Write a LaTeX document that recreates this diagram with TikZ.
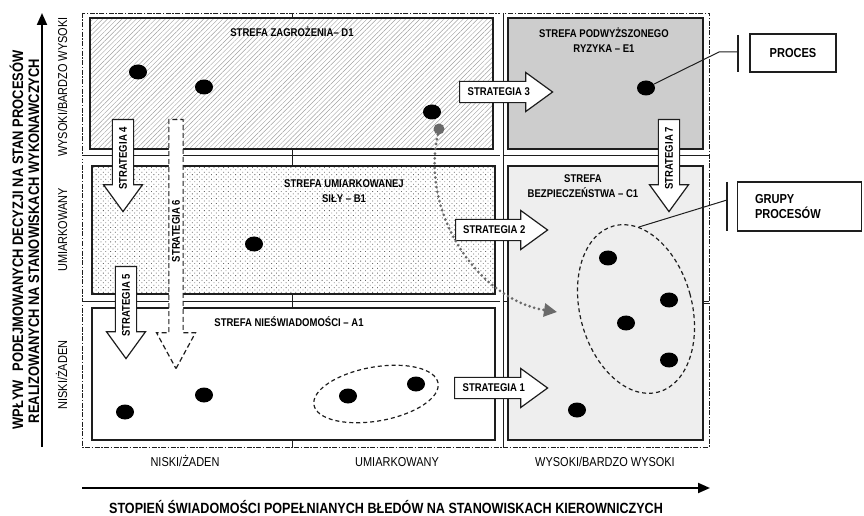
\documentclass[tikz,border=0pt]{standalone}
\usepackage{fontspec}
\setmainfont{Liberation Sans}[FakeStretch=0.85]
\usetikzlibrary{arrows.meta,positioning,shapes.geometric,shapes.arrows,patterns.meta}
\definecolor{inkdark}{HTML}{1E1E1E}
\definecolor{riskfill}{HTML}{CDCDCD}
\definecolor{safefill}{HTML}{EEEEEE}
\definecolor{hatchgray}{HTML}{A0A0A0}
\definecolor{dotgray}{HTML}{6A6A6A}
\definecolor{flowgray}{HTML}{6A6A6A}

\newcommand{\zonefont}{\fontsize{11.2bp}{15bp}\selectfont\bfseries}
\newcommand{\scalefont}{\fontsize{12.9bp}{14bp}\selectfont}
\newcommand{\titlefont}{\fontsize{15.2bp}{17bp}\selectfont\bfseries}
\newcommand{\xtitlefont}{\fontsize{14.8bp}{17bp}\selectfont\bfseries}
\newcommand{\legendfont}{\fontsize{13bp}{15.5bp}\selectfont\bfseries}

\begin{document}
\begin{tikzpicture}[
  x=1bp, y=-1bp,
  zone/.style={rectangle, draw=inkdark, line width=1.6bp, inner sep=0pt},
  zonelabel/.style={font=\zonefont, align=center, inner sep=0pt},
  scalelabel/.style={font=\scalefont, inner sep=0pt, anchor=base},
  strat/.style={single arrow, draw=inkdark, fill=white, line width=1.2bp, single arrow head extend=5.5bp, single arrow tip angle=72, minimum width=39bp, inner sep=2bp, font=\zonefont, anchor=tail},
  proc/.style={ellipse, fill=black, minimum width=18bp, minimum height=15bp, inner sep=0pt},
  grp/.style={ellipse, draw=inkdark, line width=1.2bp, dash pattern=on 4bp off 3bp, inner sep=0pt},
  legend/.style={rectangle, draw=inkdark, line width=1.5bp, font=\legendfont},
  leader/.style={inkdark, line width=1bp},
  axis/.style={-{Triangle[length=12bp,width=10bp]}, line width=2bp},
  gridline/.style={double, double distance=2.2bp, line width=0.9bp, draw=inkdark},
]
\useasboundingbox (0,0) rectangle (864,516);

% frame and grid
\draw[inkdark, line width=0.8bp, dash pattern=on 5bp off 1.5bp on 1.5bp off 1.5bp] (82,13) rectangle (709,447);
\draw[gridline] (82,157.5) -- (709,157.5);
\draw[gridline] (82,303.5) -- (709,303.5);
\draw[gridline] (501.5,13) -- (501.5,447);
\foreach \ya/\yb in {13/18, 149/166, 294/308, 440/447}
  \draw[inkdark, line width=1bp] (292,\ya) -- (292,\yb);
\draw[inkdark, line width=1bp] (703,303.5) -- (709,303.5);

% zones
\node[zone, pattern={Lines[angle=45,distance=3.4bp,line width=0.45bp]}, pattern color=hatchgray, minimum width=403bp, minimum height=131bp] (zoneD) at (291.5,83.5) {};
\node[zone, fill=riskfill, minimum width=195bp, minimum height=131bp] (zoneE) at (605.5,83.5) {};
\node[zone, pattern={Dots[angle=45,distance=3.4bp,radius=0.6bp]}, pattern color=dotgray, minimum width=403bp, minimum height=128bp] (zoneB) at (293.5,230) {};
\node[zone, fill=safefill, minimum width=195bp, minimum height=274bp] (zoneC) at (605.5,303) {};
\node[zone, fill=white, minimum width=403bp, minimum height=132bp] (zoneA) at (293.5,374) {};

\node[zonelabel, anchor=base] (labD) at (292,37) {STREFA ZAGROŻENIA– D1};
\node[zonelabel] (labE) at (604,40) {STREFA PODWYŻSZONEGO\\RYZYKA – E1};
\node[zonelabel] (labB) at (344,191) {STREFA UMIARKOWANEJ\\SIŁY – B1};
\node[zonelabel] (labC) at (583,186) {STREFA\\BEZPIECZEŃSTWA – C1};
\node[zonelabel, anchor=base] (labA) at (289,327) {STREFA NIEŚWIADOMOŚCI – A1};

% strategies
\node[strat, minimum height=93bp] (strat3) at (459,92) {STRATEGIA 3};
\node[strat, minimum height=92bp] (strat2) at (455,230) {STRATEGIA 2};
\node[strat, minimum height=93bp] (strat1) at (454,388) {STRATEGIA 1};
\node[strat, rotate=90, shape border rotate=180, minimum height=92bp] (strat4) at (123,119) {STRATEGIA 4};
\node[strat, rotate=90, shape border rotate=180, minimum height=92bp] (strat5) at (126,266) {STRATEGIA 5};
\node[strat, rotate=90, shape border rotate=180, minimum height=92bp] (strat7) at (669,119) {STRATEGIA 7};
\node[strat, dash pattern=on 5bp off 3bp, rotate=90, shape border rotate=180, minimum height=249bp, single arrow tip angle=57, single arrow head extend=4.5bp] (strat6) at (176,119) {};
\node[zonelabel, rotate=90] (strat6text) at (176,231) {STRATEGIA 6};

% processes
\node[proc] (pd1) at (138,72) {};
\node[proc] (pd2) at (204,87) {};
\node[proc] (pd3) at (432,112) {};
\node[proc] (pe1) at (646,88) {};
\node[proc] (pb1) at (254,244) {};
\node[proc] (pa1) at (125,412) {};
\node[proc] (pa2) at (204,395) {};
\node[proc] (pa3) at (348,396) {};
\node[proc] (pa4) at (416,384) {};
\node[proc] (pc1) at (608,258) {};
\node[proc] (pc2) at (669,300) {};
\node[proc] (pc3) at (626,323) {};
\node[proc] (pc4) at (669,360) {};
\node[proc] (pc5) at (577,410) {};

\node[grp, minimum width=126bp, minimum height=54bp, rotate=10] (grpA) at (376,394) {};
\node[grp, minimum width=112bp, minimum height=172bp, rotate=15] (grpC) at (636,309) {};

% moved process
\node[ellipse, fill=flowgray, minimum size=11bp, inner sep=0pt] (flowsrc) at (439,129) {};
\coordinate (flowend) at (557,312);
\draw[flowgray, line width=3bp, line cap=round, dash pattern=on 0bp off 4.8bp, -{Triangle[length=13bp,width=13bp]}] (flowsrc) .. controls (420,215) and (480,300) .. (flowend);

% legend
\node[legend, minimum width=86bp, minimum height=38bp] (legproc) at (793,53) {PROCES};
\node[legend, minimum height=49bp, text width=89bp, inner xsep=17.5bp, align=left] (leggrp) at (799.5,206.5) {GRUPY\\PROCESÓW};
\coordinate (procbend) at (719,52);
\coordinate (procbar) at (738,52);
\draw[leader] (pe1) -- (procbend) -- (procbar);
\draw[inkdark, line width=1.6bp] (738,35) -- (738,72);
\coordinate (grpbar) at (727,200);
\draw[leader] (grpC.73) -- (grpbar);
\draw[inkdark, line width=1.6bp] (727,182) -- (727,231);

% axes
\coordinate (yfoot) at (42,447);
\coordinate (yhead) at (42,13);
\draw[axis] (yfoot) -- (yhead);
\coordinate (xfoot) at (82,488);
\coordinate (xhead) at (710,488);
\draw[axis] (xfoot) -- (xhead);

\node[scalelabel, rotate=90] (rowhigh) at (67,87) {WYSOKI/BARDZO WYSOKI};
\node[scalelabel, rotate=90] (rowmid) at (67,230) {UMIARKOWANY};
\node[scalelabel, rotate=90] (rowlow) at (67,375) {NISKI/ŻADEN};
\node[scalelabel] (collow) at (185,466) {NISKI/ŻADEN};
\node[scalelabel] (colmid) at (397,466) {UMIARKOWANY};
\node[scalelabel] (colhigh) at (605,466) {WYSOKI/BARDZO WYSOKI};

\node[font=\xtitlefont, anchor=base, inner sep=0pt] (xtitle) at (386,513) {STOPIEŃ ŚWIADOMOŚCI POPEŁNIANYCH BŁEDÓW NA STANOWISKACH KIEROWNICZYCH};
\node[font=\titlefont, anchor=base, rotate=90, inner sep=0pt] (ytitleA) at (23,240) {WPŁYW\hspace{0.6em}PODEJMOWANYCH DECYZJI NA STAN PROCESÓW};
\node[font=\titlefont, anchor=base, rotate=90, inner sep=0pt] (ytitleB) at (39,241) {REALIZOWANYCH NA STANOWISKACH WYKONAWCZYCH};
\end{tikzpicture}
\end{document}
